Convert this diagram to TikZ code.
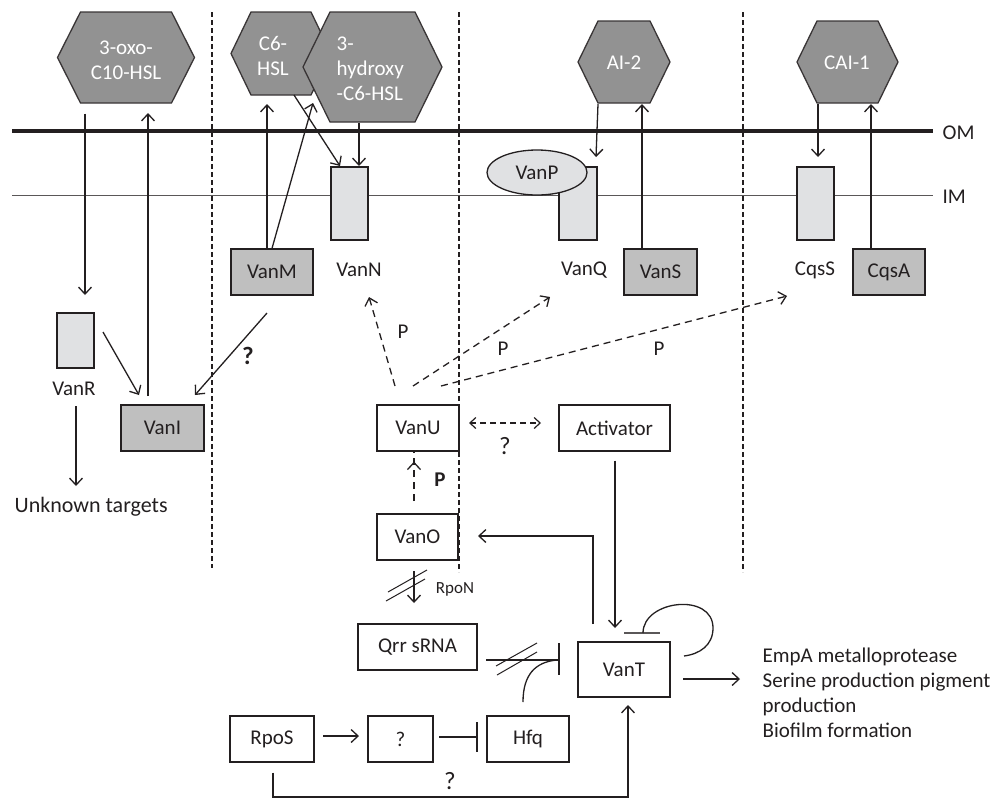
\documentclass[tikz,border=0pt]{standalone}
\usepackage{fontspec}
\setmainfont{Carlito}
\usetikzlibrary{arrows.meta,calc,shapes.geometric}
\definecolor{hexfill}{HTML}{929292}
\definecolor{gfill}{HTML}{BFBFBF}
\definecolor{lfill}{HTML}{E0E1E3}
\definecolor{ink}{HTML}{231F20}
\begin{document}
\begin{tikzpicture}[x=1pt,y=-1pt,inner sep=0pt,line width=1.3pt,draw=ink,text=ink,
  font=\fontsize{21}{25}\selectfont,
  arr/.style={-{Straight Barb[length=7pt,width=13pt,line width=1.3pt]}},
  darr/.style={arr,dash pattern=on 7pt off 5pt},
  box/.style={draw,fill=white,line width=1.2pt},
  gbox/.style={box,fill=gfill},
  lrect/.style={draw,fill=lfill,line width=1.3pt},
  hexs/.style={draw=ink!90,fill=hexfill,line width=1.3pt},
  hext/.style={text=white,align=center},
  vdash/.style={line width=1.2pt,dash pattern=on 5pt off 3pt},
  qmark/.style={font=\fontsize{25}{28}\selectfont}
]
\useasboundingbox (0,0) rectangle (995,801);

% membranes
\draw[line width=3.5pt] (12,131) coordinate (omL) -- (933,131) coordinate (omR);
\draw[line width=0.9pt,draw=ink!75] (12,195) coordinate (imL) -- (933,195) coordinate (imR);
\node[anchor=west] (OM) at (942,133) {OM};
\node[anchor=west] (IM) at (942,197) {IM};

% dashed separators
\draw[vdash] (212,12) coordinate (d1a) -- (212,568) coordinate (d1b);
\draw[vdash] (459,12) coordinate (d2a) -- (459,572) coordinate (d2b);
\draw[vdash] (743,12) coordinate (d3a) -- (743,572) coordinate (d3b);

% hexagons
\newcommand{\hexa}[7]{%
  \draw[hexs] (#2-#4,#3) -- (#2-#4+#5,#3-#6) -- (#2+#4-#5,#3-#6) -- (#2+#4,#3)
     -- (#2+#4-#5,#3+#6) -- (#2-#4+#5,#3+#6) -- cycle;
  \node[minimum width=2*#4 pt,minimum height=2*#6 pt] (#1) at (#2,#3) {};
  #7}
\hexa{oxo}{126}{57.5}{68.5}{23}{45.5}{\node[hext] (oxot) at (126,60) {3-oxo-\\C10-HSL};}
\hexa{csix}{281}{53.5}{50}{20}{41.5}{\node[hext] (csixt) at (273,56) {C6-\\HSL};}
\hexa{hyd}{372.5}{67}{69.5}{27}{55}{\node[hext,align=left,anchor=west] (hydt) at (336,69) {3-\\hydroxy\\-C6-HSL};}
\hexa{aitwo}{624}{62}{46}{20}{41}{\node[hext] (aitwot) at (624,63) {AI-2};}
\hexa{cai}{847.5}{62}{50.5}{20}{41}{\node[hext] (cait) at (847,63) {CAI-1};}

% left section
\node[lrect,minimum width=37pt,minimum height=55pt] (vanR) at (75.5,340.5) {};
\node (vanRl) at (74,389) {VanR};
\node[gbox,minimum width=83pt,minimum height=46pt] (vanI) at (162.5,428) {VanI};
\node[anchor=west,font=\fontsize{22}{26}\selectfont] (unk) at (14,507) {Unknown targets};
\draw[arr] (oxo.south -| 85,0) ++(0,10) -- (85,295);
\draw[arr] (148,396) -- (148,113);
\draw[arr] (vanRl.south -| 76,0) ++(0,10) -- (76,486);
\draw[arr] (103,332) -- (139,395);

% VanM / VanN
\node[gbox,minimum width=82pt,minimum height=46pt] (vanM) at (272,272) {VanM};
\node[lrect,minimum width=37pt,minimum height=73pt] (vanN) at (349.5,203.5) {};
\node (vanNl) at (359,270) {VanN};
\draw[arr] (vanM.north -| 267,0) -- (267,104);
\draw[arr] (vanM.north -| 272,0) -- (313,103);
\draw[arr] (294,95) -- (340,166);
\draw[arr] (hyd.south -| 359,0) -- (359,166);
\draw[arr] (267,313) -- (195,395);
\node[qmark,font=\fontsize{25}{28}\selectfont\bfseries] (q1) at (248,356) {?};

% VanQ / VanP / VanS
\node[lrect,minimum width=38pt,minimum height=73pt] (vanQ) at (578,203.5) {};
\node[draw,ellipse,fill=lfill,line width=1.3pt,minimum width=100pt,minimum height=45pt] (vanP) at (537,172.5) {VanP};
\node (vanQl) at (584,270) {VanQ};
\node[gbox,minimum width=73pt,minimum height=46pt] (vanS) at (660.5,272) {VanS};
\draw[arr] (598,104) -- (596,157);
\draw[arr] (vanS.north -| 642,0) -- (642,104);

% CqsS / CqsA
\node[lrect,minimum width=37pt,minimum height=73pt] (cqsS) at (815.5,203.5) {};
\node (cqsSl) at (815,270) {CqsS};
\node[gbox,minimum width=72pt,minimum height=46pt] (cqsA) at (889,272) {CqsA};
\draw[arr] (818,104) -- (818,157);
\draw[arr] (cqsA.north -| 871,0) -- (871,104);

% VanU, Activator
\node[box,minimum width=82pt,minimum height=46pt] (vanU) at (418,428) {VanU};
\node[box,minimum width=111pt,minimum height=46pt] (act) at (614.5,428) {Activator};
\draw[{Straight Barb[length=6pt,width=11pt,line width=1.2pt]}-{Straight Barb[length=6pt,width=11pt,line width=1.2pt]},dash pattern=on 6pt off 4pt,line width=1.2pt] (469,423) -- (541,423);
\node[qmark] (q2) at (505,446) {?};
\draw[darr] (395,386) -- (369,297);
\node (p1) at (403,332) {P};
\draw[darr] (413,386) -- (550,297);
\node (p2) at (503,349) {P};
\draw[darr] (441,386) -- (787,296);
\node (p3) at (659,349) {P};

% VanO
\node[box,minimum width=81pt,minimum height=46pt] (vanO) at (417.5,537) {VanO};
\draw[darr] (414,501) -- (vanU.south -| 414,0) ++(0,10);
\node[font=\fontsize{21}{25}\selectfont\bfseries] (p4) at (440,480) {P};
\draw[arr] (414,571) -- (414,603);
\draw[line width=1pt] (388,592) -- (427,570);
\draw[line width=1pt] (386,601) -- (425,579);
\node[font=\fontsize{17}{20}\selectfont] (rpoN) at (455,589) {RpoN};

% Qrr, VanT
\node[box,minimum width=119pt,minimum height=46pt] (qrr) at (417.5,647) {Qrr sRNA};
\node[box,minimum width=92pt,minimum height=55pt] (vanT) at (624,669.5) {VanT};
\draw (486,660) -- (559,660);
\draw[line width=1.5pt] (559,643) -- (559,675);
\draw[line width=1pt] (496,666) -- (537,643);
\draw[line width=1pt] (497,675) -- (537,652);
\draw[arr] (593,624) -- (593,536) -- (478,536);
\draw[arr] (act.south -| 615,0) ++(0,9) -- (615,628);
\draw[draw=ink!75] (624,633) -- (660,633);
\draw (643,633) .. controls (643,600) and (713,592) .. (713,628) .. controls (713,645) and (700,654) .. (684,656);
\draw[arr] (683,679) -- (740,679);
\node[anchor=north west,align=left] (outs) at (762,647) {EmpA metalloprotease\\Serine production pigment\\production\\Biofilm formation};

% bottom row
\node[box,minimum width=84pt,minimum height=46pt] (rpoS) at (272,739) {RpoS};
\node[box,minimum width=65pt,minimum height=46pt] (qbox) at (400.5,739) {?};
\node[box,minimum width=82pt,minimum height=46pt] (hfq) at (528,739) {Hfq};
\draw[arr] (323,736) -- (359,736);
\draw (439,737) -- (477,737);
\draw[line width=1.5pt] (477,722) -- (477,752);
\draw (523,702) .. controls (523,675) and (535,662) .. (557,660);
\draw[arr] (rpoS.south -| 273,0) ++(0,10) -- (273,797) -- (628,797) -- (628,705);
\node[qmark] (q3) at (450,781) {?};
\end{tikzpicture}
\end{document}
